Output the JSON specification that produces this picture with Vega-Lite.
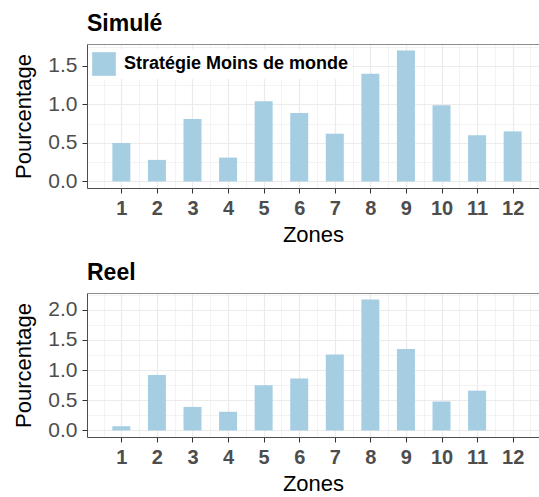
{
  "$schema": "https://vega.github.io/schema/vega-lite/v6.json",
  "padding": {"left": 12, "top": 13, "right": 0, "bottom": 0},
  "spacing": 17,
  "config": {
    "font": "Liberation Sans",
    "view": {"stroke": null},
    "axis": {"gridColor": "#ebebeb", "labelOverlap": false}
  },
  "datasets": {
    "simule": [
      {"zone": 1, "pct": 0.50, "serie": "Stratégie Moins de monde"},
      {"zone": 2, "pct": 0.28, "serie": "Stratégie Moins de monde"},
      {"zone": 3, "pct": 0.81, "serie": "Stratégie Moins de monde"},
      {"zone": 4, "pct": 0.31, "serie": "Stratégie Moins de monde"},
      {"zone": 5, "pct": 1.04, "serie": "Stratégie Moins de monde"},
      {"zone": 6, "pct": 0.89, "serie": "Stratégie Moins de monde"},
      {"zone": 7, "pct": 0.62, "serie": "Stratégie Moins de monde"},
      {"zone": 8, "pct": 1.40, "serie": "Stratégie Moins de monde"},
      {"zone": 9, "pct": 1.70, "serie": "Stratégie Moins de monde"},
      {"zone": 10, "pct": 0.99, "serie": "Stratégie Moins de monde"},
      {"zone": 11, "pct": 0.60, "serie": "Stratégie Moins de monde"},
      {"zone": 12, "pct": 0.65, "serie": "Stratégie Moins de monde"}
    ],
    "reel": [
      {"zone": 1, "pct": 0.07},
      {"zone": 2, "pct": 0.92},
      {"zone": 3, "pct": 0.39},
      {"zone": 4, "pct": 0.31},
      {"zone": 5, "pct": 0.75},
      {"zone": 6, "pct": 0.86},
      {"zone": 7, "pct": 1.26},
      {"zone": 8, "pct": 2.17},
      {"zone": 9, "pct": 1.35},
      {"zone": 10, "pct": 0.48},
      {"zone": 11, "pct": 0.66},
      {"zone": 12, "pct": 0}
    ]
  },
  "vconcat": [
    {
      "width": 452,
      "height": 144,
      "title": {"text": "Simulé", "anchor": "start", "frame": "group", "fontSize": 23, "fontWeight": "bold", "color": "black", "offset": 8},
      "data": {"name": "simule"},
      "layer": [
        {
          "mark": {"type": "bar", "width": 18},
          "encoding": {
            "x": {
              "field": "zone", "type": "quantitative",
              "scale": {"domain": [0.175, 12.6], "nice": false, "zero": false},
              "axis": {
                "orient": "bottom",
                "values": [0.5, 1, 1.5, 2, 2.5, 3, 3.5, 4, 4.5, 5, 5.5, 6, 6.5, 7, 7.5, 8, 8.5, 9, 9.5, 10, 10.5, 11, 11.5, 12, 12.5],
                "labelExpr": "datum.value % 1 == 0 ? format(datum.value, 'd') : ''",
                "labelOverlap": false, "labelBound": false, "labelFlush": false,
                "labelFontSize": {"condition": {"test": "datum.value % 1 != 0", "value": 0}, "value": 20},
                "labelFontWeight": "bold", "labelColor": "#4d4d4d", "labelDx": -7, "labelPadding": 5,
                "tickSize": 5, "tickColor": "#333333", "tickOpacity": {"condition": {"test": "datum.value % 1 != 0", "value": 0}, "value": 1},
                "domainColor": "#4d4d4d",
                "gridWidth": {"condition": {"test": "datum.value % 1 != 0", "value": 0.6}, "value": 1.2},
                "title": "Zones", "titleFontSize": 22, "titleFontWeight": "normal", "titleColor": "black", "titlePadding": 6
              }
            },
            "y": {
              "field": "pct", "type": "quantitative", "title": "Pourcentage",
              "scale": {"domain": [-0.085, 1.785], "nice": false, "zero": false},
              "axis": {
                "values": [0, 0.25, 0.5, 0.75, 1, 1.25, 1.5, 1.75],
                "labelExpr": "datum.value % 0.5 == 0 ? format(datum.value, '.1f') : ''",
                "labelOverlap": false, "labelBound": false, "labelFlush": false,
                "labelFontSize": {"condition": {"test": "datum.value % 0.5 != 0", "value": 0}, "value": 21},
                "labelColor": "#4d4d4d", "labelPadding": 5,
                "tickSize": 5, "tickColor": "#333333", "tickOpacity": {"condition": {"test": "datum.value % 0.5 != 0", "value": 0}, "value": 1},
                "domainColor": "#4d4d4d",
                "gridWidth": {"condition": {"test": "datum.value % 0.5 != 0", "value": 0.6}, "value": 1.2},
                "title": "Pourcentage", "titleFontSize": 22, "titleFontWeight": "normal", "titleColor": "black", "titlePadding": 12
              }
            },
            "color": {
              "field": "serie", "type": "nominal",
              "scale": {"range": ["#a6cee3"]},
              "legend": {
                "title": null, "orient": "none", "legendX": 2, "legendY": 5,
                "fillColor": "white", "padding": 3,
                "symbolType": "square", "symbolSize": 560, "symbolStrokeWidth": 0, "symbolOpacity": 1,
                "labelFont": "Liberation Sans", "labelFontSize": 18, "labelFontWeight": "bold", "labelColor": "black", "labelOffset": 8, "labelLimit": 400
              }
            }
          }
        },
        {
          "mark": {"type": "bar", "width": 18, "opacity": 0},
          "encoding": {
            "x": {"field": "zone", "type": "quantitative", "axis": {"orient": "top", "labels": false, "ticks": false, "grid": false, "domain": true, "domainColor": "#8c8c8c", "title": null}},
            "y": {
              "field": "pct", "type": "quantitative", "title": "Pourcentage",
              "axis": {
                "values": [0, 0.25, 0.5, 0.75, 1, 1.25, 1.5, 1.75],
                "labelExpr": "datum.value % 0.5 == 0 ? format(datum.value, '.1f') : ''",
                "labelOverlap": false, "labelBound": false, "labelFlush": false,
                "labelFontSize": {"condition": {"test": "datum.value % 0.5 != 0", "value": 0}, "value": 21},
                "labelColor": "#4d4d4d", "labelPadding": 5,
                "tickSize": 5, "tickColor": "#333333", "tickOpacity": {"condition": {"test": "datum.value % 0.5 != 0", "value": 0}, "value": 1},
                "domainColor": "#4d4d4d",
                "gridWidth": {"condition": {"test": "datum.value % 0.5 != 0", "value": 0.6}, "value": 1.2},
                "title": "Pourcentage", "titleFontSize": 22, "titleFontWeight": "normal", "titleColor": "black", "titlePadding": 12
              }
            }
          }
        }
      ],
      "resolve": {"axis": {"x": "independent"}}
    },
    {
      "width": 452,
      "height": 144,
      "title": {"text": "Reel", "anchor": "start", "frame": "group", "fontSize": 23, "fontWeight": "bold", "color": "black", "offset": 8},
      "data": {"name": "reel"},
      "layer": [
        {
          "mark": {"type": "bar", "width": 18, "color": "#a6cee3"},
          "encoding": {
            "x": {
              "field": "zone", "type": "quantitative",
              "scale": {"domain": [0.175, 12.6], "nice": false, "zero": false},
              "axis": {
                "orient": "bottom",
                "values": [0.5, 1, 1.5, 2, 2.5, 3, 3.5, 4, 4.5, 5, 5.5, 6, 6.5, 7, 7.5, 8, 8.5, 9, 9.5, 10, 10.5, 11, 11.5, 12, 12.5],
                "labelExpr": "datum.value % 1 == 0 ? format(datum.value, 'd') : ''",
                "labelOverlap": false, "labelBound": false, "labelFlush": false,
                "labelFontSize": {"condition": {"test": "datum.value % 1 != 0", "value": 0}, "value": 20},
                "labelFontWeight": "bold", "labelColor": "#4d4d4d", "labelDx": -7, "labelPadding": 5,
                "tickSize": 5, "tickColor": "#333333", "tickOpacity": {"condition": {"test": "datum.value % 1 != 0", "value": 0}, "value": 1},
                "domainColor": "#4d4d4d",
                "gridWidth": {"condition": {"test": "datum.value % 1 != 0", "value": 0.6}, "value": 1.2},
                "title": "Zones", "titleFontSize": 22, "titleFontWeight": "normal", "titleColor": "black", "titlePadding": 6
              }
            },
            "y": {
              "field": "pct", "type": "quantitative", "title": "Pourcentage",
              "scale": {"domain": [-0.1085, 2.2785], "nice": false, "zero": false},
              "axis": {
                "values": [0, 0.25, 0.5, 0.75, 1, 1.25, 1.5, 1.75, 2, 2.25],
                "labelExpr": "datum.value % 0.5 == 0 ? format(datum.value, '.1f') : ''",
                "labelOverlap": false, "labelBound": false, "labelFlush": false,
                "labelFontSize": {"condition": {"test": "datum.value % 0.5 != 0", "value": 0}, "value": 21},
                "labelColor": "#4d4d4d", "labelPadding": 5,
                "tickSize": 5, "tickColor": "#333333", "tickOpacity": {"condition": {"test": "datum.value % 0.5 != 0", "value": 0}, "value": 1},
                "domainColor": "#4d4d4d",
                "gridWidth": {"condition": {"test": "datum.value % 0.5 != 0", "value": 0.6}, "value": 1.2},
                "title": "Pourcentage", "titleFontSize": 22, "titleFontWeight": "normal", "titleColor": "black", "titlePadding": 12
              }
            }
          }
        },
        {
          "mark": {"type": "bar", "width": 18, "opacity": 0},
          "encoding": {
            "x": {"field": "zone", "type": "quantitative", "axis": {"orient": "top", "labels": false, "ticks": false, "grid": false, "domain": true, "domainColor": "#8c8c8c", "title": null}},
            "y": {
              "field": "pct", "type": "quantitative", "title": "Pourcentage",
              "axis": {
                "values": [0, 0.25, 0.5, 0.75, 1, 1.25, 1.5, 1.75, 2, 2.25],
                "labelExpr": "datum.value % 0.5 == 0 ? format(datum.value, '.1f') : ''",
                "labelOverlap": false, "labelBound": false, "labelFlush": false,
                "labelFontSize": {"condition": {"test": "datum.value % 0.5 != 0", "value": 0}, "value": 21},
                "labelColor": "#4d4d4d", "labelPadding": 5,
                "tickSize": 5, "tickColor": "#333333", "tickOpacity": {"condition": {"test": "datum.value % 0.5 != 0", "value": 0}, "value": 1},
                "domainColor": "#4d4d4d",
                "gridWidth": {"condition": {"test": "datum.value % 0.5 != 0", "value": 0.6}, "value": 1.2},
                "title": "Pourcentage", "titleFontSize": 22, "titleFontWeight": "normal", "titleColor": "black", "titlePadding": 12
              }
            }
          }
        }
      ],
      "resolve": {"axis": {"x": "independent"}}
    }
  ]
}
